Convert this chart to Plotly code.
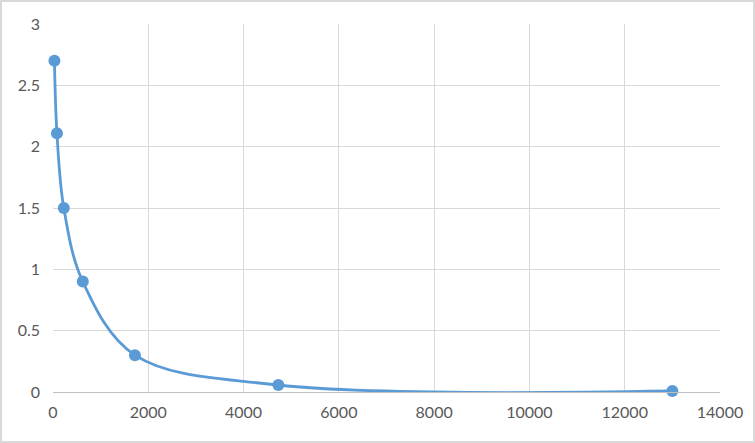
import plotly.graph_objects as go

conc = [30, 83, 227, 625, 1720, 4730, 13000]
od = [2.70, 2.11, 1.50, 0.90, 0.30, 0.057, 0.008]

x_ticks = [0, 2000, 4000, 6000, 8000, 10000, 12000, 14000]
y_ticks = [0, 0.5, 1, 1.5, 2, 2.5, 3]

blue = "#5b9bd5"

fig = go.Figure()
fig.add_trace(go.Scatter(
    x=conc, y=od, mode="lines+markers",
    line=dict(color=blue, width=2.8, shape="spline", smoothing=1.0),
    marker=dict(color=blue, size=12),
    showlegend=False, cliponaxis=False,
))

L, R, T, B = 53, 35, 24, 51
PW, PH = 755 - L - R, 443 - T - B

fig.update_layout(
    width=755, height=443,
    margin=dict(l=L, r=R, t=T, b=B, autoexpand=False),
    paper_bgcolor="white", plot_bgcolor="white",
    font=dict(family="Lato, Calibri, Carlito, sans-serif", size=16, color="#595959"),
    xaxis=dict(
        range=[0, 14000], tickvals=x_ticks, ticktext=[str(v) for v in x_ticks],
        showgrid=True, gridcolor="#d9d9d9", gridwidth=1,
        showline=True, linecolor="#bfbfbf", linewidth=1,
        zeroline=False, ticks="", ticklen=0, ticklabelstandoff=6,
    ),
    yaxis=dict(
        range=[0, 3], tickvals=y_ticks, ticktext=["0", "0.5", "1", "1.5", "2", "2.5", "3"],
        showgrid=True, gridcolor="#d9d9d9", gridwidth=1,
        showline=False, zeroline=False, ticks="", ticklen=0, ticklabelstandoff=12,
    ),
    shapes=[dict(type="rect", xref="paper", yref="paper",
                 x0=-(L - 1) / PW, x1=1 + (R - 1) / PW,
                 y0=-(B - 1) / PH, y1=1 + (T - 1) / PH,
                 line=dict(color="#d9d9d9", width=2), fillcolor="rgba(0,0,0,0)",
                 layer="below")],
)

fig.write_html("out.html", config={"displayModeBar": False},
               post_script="document.body.style.margin='0';")
